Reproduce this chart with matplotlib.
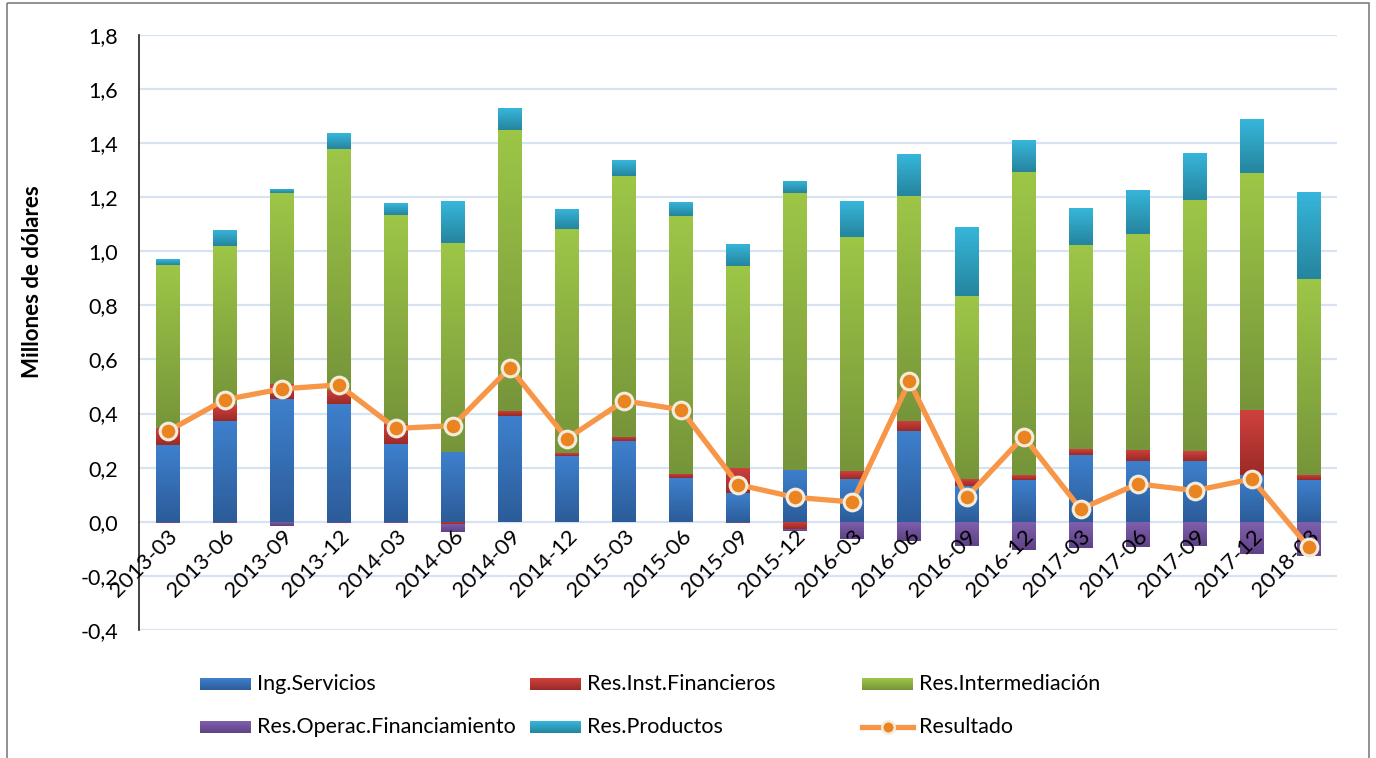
import matplotlib
matplotlib.use("Agg")
import matplotlib.pyplot as plt
import numpy as np
from matplotlib.colors import LinearSegmentedColormap
from matplotlib.patches import Rectangle
from matplotlib.lines import Line2D

periodos = ["2013-03", "2013-06", "2013-09", "2013-12", "2014-03", "2014-06", "2014-09",
            "2014-12", "2015-03", "2015-06", "2015-09", "2015-12", "2016-03", "2016-06",
            "2016-09", "2016-12", "2017-03", "2017-06", "2017-09", "2017-12", "2018-03"]

ing_servicios = [0.282, 0.373, 0.455, 0.434, 0.289, 0.256, 0.389, 0.244, 0.299, 0.160, 0.107,
                 0.193, 0.158, 0.336, 0.133, 0.156, 0.248, 0.225, 0.225, 0.174, 0.155]
res_inst_fin = [0.066, 0.059, 0.055, 0.054, 0.073, -0.008, 0.021, 0.011, 0.015, 0.017, 0.093,
                -0.026, 0.028, 0.037, 0.025, 0.015, 0.022, 0.041, 0.035, 0.240, 0.019]
res_intermed = [0.602, 0.588, 0.705, 0.890, 0.772, 0.776, 1.039, 0.828, 0.965, 0.954, 0.744,
                1.022, 0.867, 0.832, 0.675, 1.122, 0.754, 0.798, 0.930, 0.876, 0.724]
res_oper_fin = [-0.005, -0.004, -0.017, -0.004, -0.003, -0.030, -0.002, -0.002, -0.002, -0.002,
                -0.005, -0.010, -0.063, -0.073, -0.088, -0.103, -0.099, -0.095, -0.091, -0.120,
                -0.128]
res_productos = [0.020, 0.060, 0.015, 0.059, 0.044, 0.153, 0.081, 0.074, 0.059, 0.052, 0.083,
                 0.045, 0.133, 0.155, 0.257, 0.117, 0.136, 0.163, 0.174, 0.199, 0.322]
resultado = [0.334, 0.451, 0.491, 0.506, 0.345, 0.355, 0.569, 0.307, 0.447, 0.414, 0.137,
             0.090, 0.073, 0.519, 0.090, 0.315, 0.047, 0.140, 0.115, 0.158, -0.095]

series = [
    ("Ing.Servicios", ing_servicios, ("#2c5c99", "#3e80cd")),
    ("Res.Inst.Financieros", res_inst_fin, ("#9b2a27", "#cf413d")),
    ("Res.Intermediación", res_intermed, ("#76953a", "#9dc647")),
    ("Res.Operac.Financiamiento", res_oper_fin, ("#5e4286", "#8060ae")),
    ("Res.Productos", res_productos, ("#25859e", "#37b6db")),
]

plt.rcParams["font.family"] = ["Lato", "DejaVu Sans"]

fig = plt.figure(figsize=(13.76, 7.58), dpi=100)
ax = fig.add_axes([0.101, 0.169, 0.871, 0.785])

x = np.arange(len(periodos))
pos_bottom = np.zeros(len(x))
neg_bottom = np.zeros(len(x))
for name, vals, (dark, light) in series:
    vals = np.asarray(vals)
    bottoms = np.where(vals >= 0, pos_bottom, neg_bottom)
    bars = ax.bar(x, vals, 0.42, bottom=bottoms, facecolor="none", edgecolor="none", zorder=2)
    cmap = LinearSegmentedColormap.from_list(name, [dark, light])
    grad = np.linspace(0, 1, 64).reshape(-1, 1)
    for p in bars.patches:
        x0, y0 = p.get_x(), p.get_y()
        w, h = p.get_width(), p.get_height()
        ylo, yhi = min(y0, y0 + h), max(y0, y0 + h)
        im = ax.imshow(grad, extent=(x0, x0 + w, ylo, yhi), origin="lower", aspect="auto",
                       cmap=cmap, zorder=2, interpolation="bilinear")
        im.set_clip_path(p)
    pos_bottom += np.where(vals >= 0, vals, 0)
    neg_bottom += np.where(vals < 0, vals, 0)

ax.plot(x, resultado, color="#f79646", lw=3.8, marker="o", markersize=12,
        markerfacecolor="#ea8420", markeredgecolor="#f3ecdc", markeredgewidth=2.2, zorder=6)

ax.set_xlim(-0.5, 20.5)
ax.set_ylim(-0.4, 1.8)
yt = np.round(np.arange(-0.4, 1.81, 0.2), 1)
ax.set_yticks(yt)
ax.set_yticklabels([f"{v:.1f}".replace(".", ",") for v in yt], fontsize=15.5)
ax.grid(axis="y", color="#d7e3f2", lw=1.6, zorder=0)
ax.set_axisbelow(True)
ax.xaxis.set_zorder(5)

ax.spines["bottom"].set_position(("data", 0))
ax.spines["bottom"].set_visible(False)
for s in ["top", "right"]:
    ax.spines[s].set_visible(False)
ax.spines["left"].set_color("#222222")
ax.spines["left"].set_linewidth(1.2)
ax.tick_params(axis="y", length=0, pad=15)
ax.tick_params(axis="x", length=0, pad=3)
ax.set_xticks(x)
ax.set_xticklabels(periodos, rotation=45, ha="right", rotation_mode="anchor", fontsize=16)
ax.set_ylabel("Millones de dólares", fontsize=16, fontweight="bold")
ax.yaxis.set_label_coords(-0.080, 0.585)

# legend drawn in pixel coordinates
lg = fig.add_axes([0, 0, 1, 1], zorder=-1)
lg.set_xlim(0, 1376)
lg.set_ylim(758, 0)
lg.axis("off")
lg.add_patch(Rectangle((7, 3), 1362, 780, fill=False, edgecolor="#7f7f7f", lw=1.2))

cols = [200, 530, 862]
rows = [684, 727]
grad = np.linspace(0, 1, 32).reshape(-1, 1)
slots = [(0, 0), (0, 1), (0, 2), (1, 0), (1, 1)]
for (r, c), (name, _, (dark, light)) in zip(slots, series):
    cmap = LinearSegmentedColormap.from_list(name, [dark, light])
    xc, yc = cols[c], rows[r]
    lg.imshow(grad, extent=(xc, xc + 51, yc + 6, yc - 6), origin="lower", aspect="auto",
              cmap=cmap, interpolation="bilinear")
    lg.text(xc + 57, yc, name, fontsize=15.5, va="center", ha="left")
xc, yc = cols[2], rows[1]
lg.add_line(Line2D([xc, xc + 51], [yc, yc], color="#f79646", lw=3.8, marker=None))
lg.add_line(Line2D([xc + 25.5], [yc], marker="o", markersize=9, markerfacecolor="#ea8420",
                   markeredgecolor="#f3ecdc", markeredgewidth=1.8))
lg.text(xc + 57, yc, "Resultado", fontsize=15.5, va="center", ha="left")
lg.set_xlim(0, 1376)
lg.set_ylim(758, 0)

fig.savefig("out.png", dpi=100)
